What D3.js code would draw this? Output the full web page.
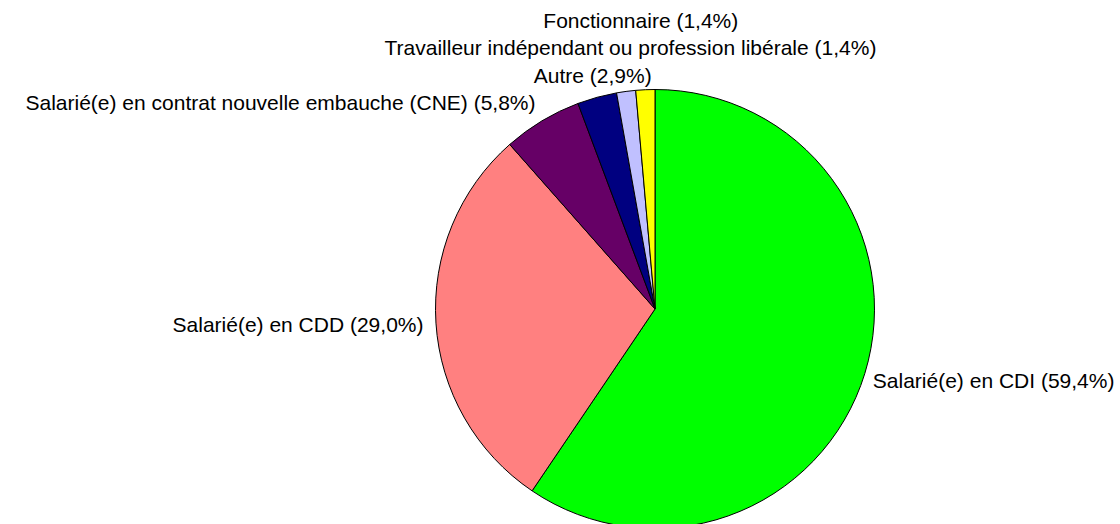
<!DOCTYPE html>
<html>
<head>
<meta charset="utf-8">
<script src="https://cdn.jsdelivr.net/npm/d3@7"></script>
<style>
  body { margin: 0; background: #fff; }
  svg { display: block; }
</style>
</head>
<body>
<div id="chart"></div>
<script>
// Data
const categories = [
  "Salarié(e) en CDI",
  "Salarié(e) en CDD",
  "Salarié(e) en contrat nouvelle embauche (CNE)",
  "Autre",
  "Travailleur indépendant ou profession libérale",
  "Fonctionnaire"
];
const values = [59.4, 29.0, 5.8, 2.9, 1.4, 1.4];
const valueLabels = ["59,4%", "29,0%", "5,8%", "2,9%", "1,4%", "1,4%"];
const colors = ["#00ff00", "#ff8080", "#660066", "#000080", "#c0c0ff", "#ffff00"];

// Parameters
const svg_w = 1120;
const svg_h = 524;
const cx = 655;
const cy = 309;
const radius = 219.5;
const fontSize = 21;

// label layout: radial distance + nudges (dx, dy), anchor
const labelLayout = [
  {r: 232, dx: -4, dy: 6, anchor: "start"},
  {r: 232, dx: 0, dy: 3, anchor: "end"},
  {r: 232, dx: 0, dy: -6, anchor: "end"},
  {r: 232, dx: -1, dy: -8, anchor: "middle"},
  {r: 232, dx: 6, dy: -30, anchor: "middle"},
  {r: 232, dx: -4, dy: -55, anchor: "middle"}
];

const svg = d3.select("#chart")
  .append("svg")
    .attr("width", svg_w)
    .attr("height", svg_h);

const pie = d3.pie().sort(null).value(d => d);
const arcs = pie(values);

const arc = d3.arc().innerRadius(0).outerRadius(radius);

const g = svg.append("g")
    .attr("transform", `translate(${cx}, ${cy})`);

g.selectAll("path")
  .data(arcs)
  .enter()
  .append("path")
    .attr("d", arc)
    .attr("fill", (d, i) => colors[i])
    .attr("stroke", "#000")
    .attr("stroke-width", 1)
    .attr("stroke-linejoin", "round");

// Labels
g.selectAll("text")
  .data(arcs)
  .enter()
  .append("text")
    .attr("x", (d, i) => {
      const a = (d.startAngle + d.endAngle) / 2;
      return Math.sin(a) * labelLayout[i].r + labelLayout[i].dx;
    })
    .attr("y", (d, i) => {
      const a = (d.startAngle + d.endAngle) / 2;
      return -Math.cos(a) * labelLayout[i].r + labelLayout[i].dy;
    })
    .attr("text-anchor", (d, i) => labelLayout[i].anchor)
    .attr("dominant-baseline", "middle")
    .style("font-family", "'Liberation Sans', Arial, sans-serif")
    .style("font-size", fontSize + "px")
    .style("fill", "#000")
    .text((d, i) => `${categories[i]} (${valueLabels[i]})`);
</script>
</body>
</html>
